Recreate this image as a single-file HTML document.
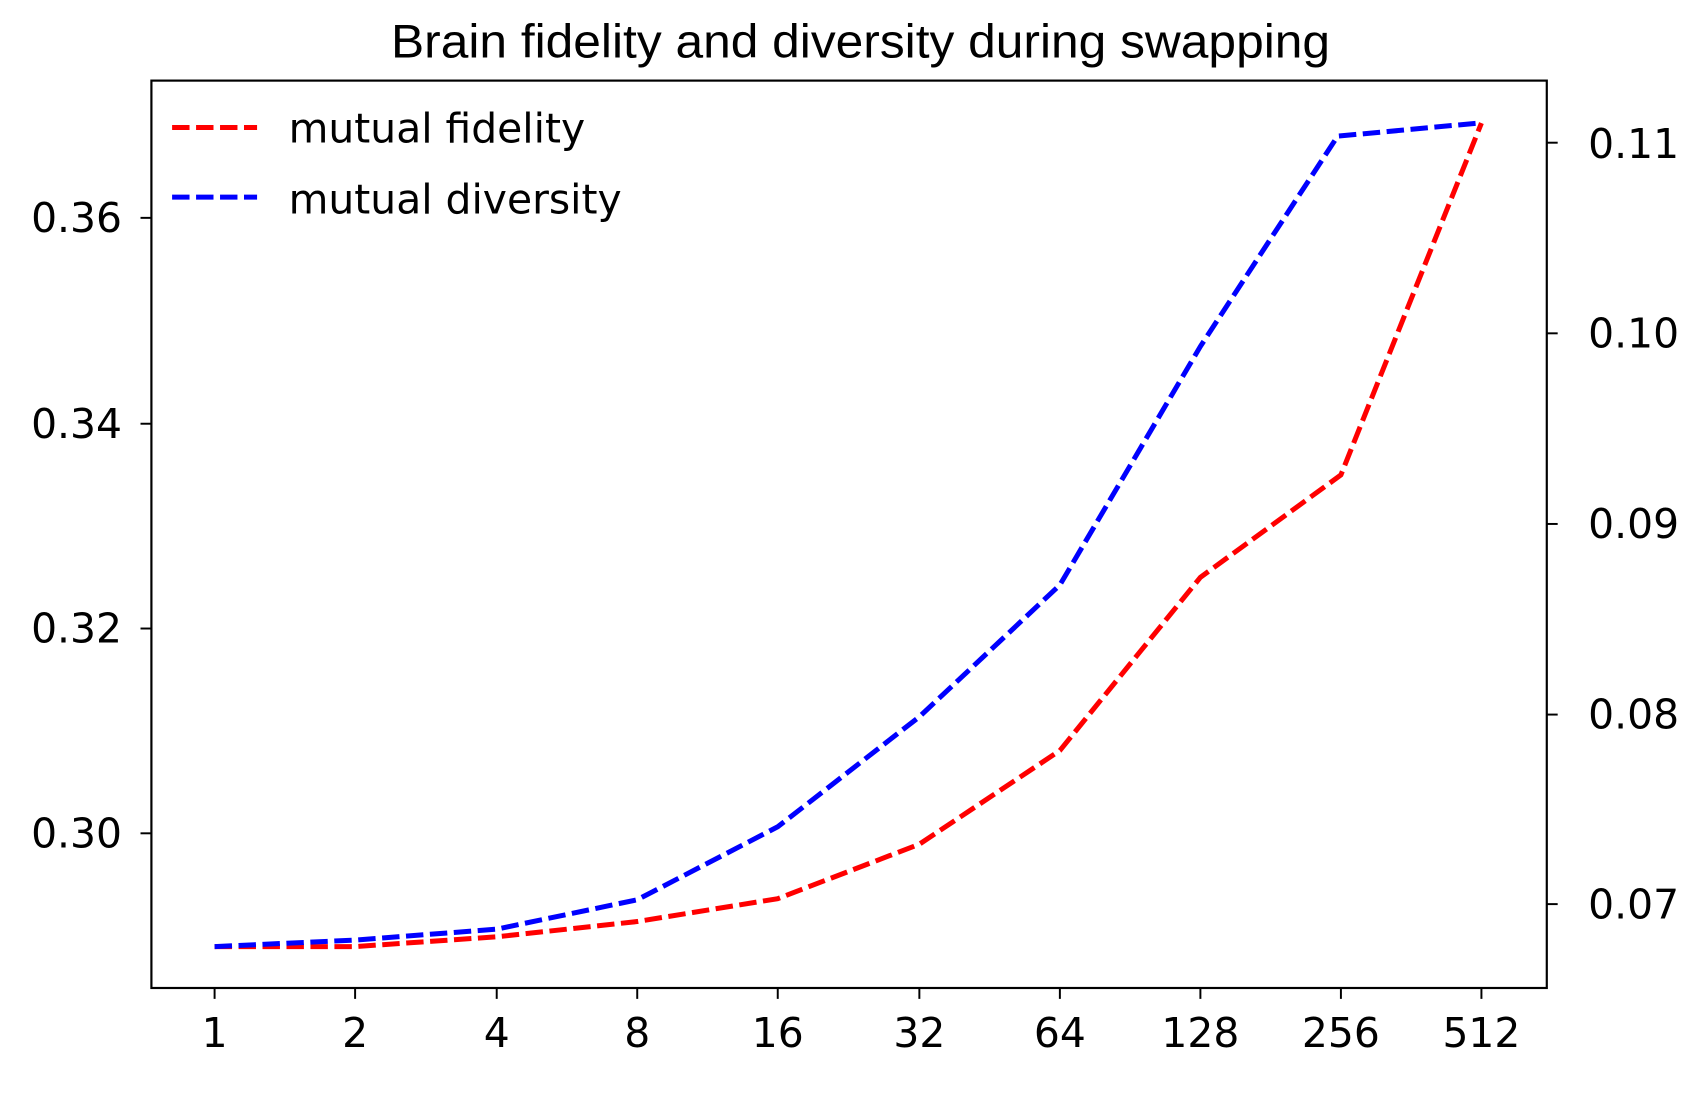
<!DOCTYPE html>
<html><head><meta charset="utf-8"><style>html,body{margin:0;padding:0;background:#fff;}svg{display:block}</style></head>
<body>
<svg width="1708" height="1115" viewBox="0 0 1568 1023.6" preserveAspectRatio="none" xmlns="http://www.w3.org/2000/svg">
<rect width="1568" height="1023.6" fill="#fff"/>
<text x="790" y="53" font-family="Liberation Sans, Arial, sans-serif" font-size="43" text-anchor="middle" textLength="862" lengthAdjust="spacingAndGlyphs">Brain fidelity and diversity during swapping</text>
<g font-family="DejaVu Sans, sans-serif" font-size="37.5" fill="#000">
<g text-anchor="end">
<text x="112" y="213">0.36</text>
<text x="112" y="402">0.34</text>
<text x="112" y="590">0.32</text>
<text x="112" y="778">0.30</text>
</g>
<g text-anchor="start">
<text x="1458" y="145">0.11</text>
<text x="1458" y="319">0.10</text>
<text x="1458" y="494">0.09</text>
<text x="1458" y="669">0.08</text>
<text x="1458" y="843">0.07</text>
</g>
<g text-anchor="middle">
<text x="197" y="961">1</text>
<text x="326" y="961">2</text>
<text x="456" y="961">4</text>
<text x="585" y="961">8</text>
<text x="714" y="961">16</text>
<text x="844" y="961">32</text>
<text x="973" y="961">64</text>
<text x="1102" y="961">128</text>
<text x="1231" y="961">256</text>
<text x="1360" y="961">512</text>
</g>
<text x="265" y="131">mutual fidelity</text>
<text x="265" y="196">mutual diversity</text>
</g>
<g stroke="#000" stroke-width="1.8">
<line x1="129" y1="200" x2="139" y2="200"/>
<line x1="129" y1="389" x2="139" y2="389"/>
<line x1="129" y1="577" x2="139" y2="577"/>
<line x1="129" y1="765" x2="139" y2="765"/>
<line x1="1420" y1="131" x2="1430" y2="131"/>
<line x1="1420" y1="306" x2="1430" y2="306"/>
<line x1="1420" y1="481" x2="1430" y2="481"/>
<line x1="1420" y1="656" x2="1430" y2="656"/>
<line x1="1420" y1="830" x2="1430" y2="830"/>
<line x1="197" y1="907" x2="197" y2="917"/>
<line x1="326" y1="907" x2="326" y2="917"/>
<line x1="456" y1="907" x2="456" y2="917"/>
<line x1="585" y1="907" x2="585" y2="917"/>
<line x1="714" y1="907" x2="714" y2="917"/>
<line x1="844" y1="907" x2="844" y2="917"/>
<line x1="973" y1="907" x2="973" y2="917"/>
<line x1="1102" y1="907" x2="1102" y2="917"/>
<line x1="1231" y1="907" x2="1231" y2="917"/>
<line x1="1360" y1="907" x2="1360" y2="917"/>
</g>
<g fill="none" stroke-width="4.6" stroke-dasharray="16,6">
<polyline stroke="#ff0000" points="197,869 326,869 456,860 585,846 714,825 844,775 973,689 1102,530 1231,436 1360,113"/>
<polyline stroke="#0000ff" points="197,869 326,863 456,853 585,826 714,759 844,658 973,537 1102,318 1228,125 1357,113"/>
<line x1="158" y1="117" x2="236" y2="117" stroke="#ff0000"/>
<line x1="158" y1="181" x2="236" y2="181" stroke="#0000ff"/>
</g>
<rect x="139" y="74" width="1281" height="833" fill="none" stroke="#000" stroke-width="2"/>
</svg>
</body></html>
